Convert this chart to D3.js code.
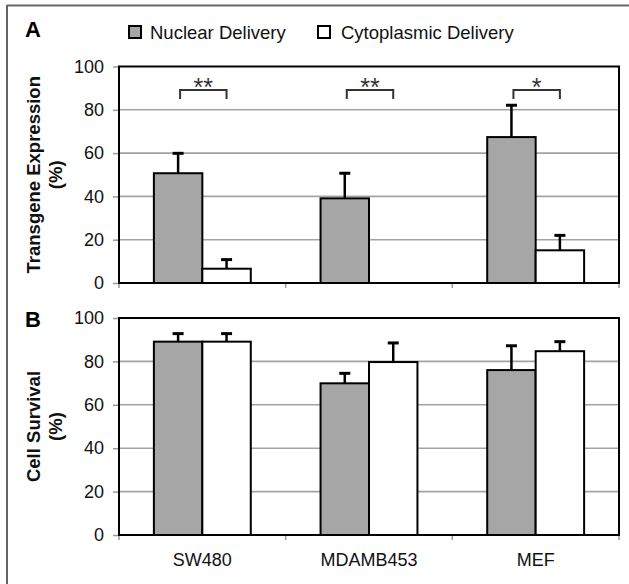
<!DOCTYPE html>
<html>
<head>
<meta charset="utf-8">
<script src="https://cdn.jsdelivr.net/npm/d3@7"></script>
<style>
html,body{margin:0;padding:0;background:#fff;}
svg{display:block;}
text{font-family:"Liberation Sans",Arial,sans-serif;}
</style>
</head>
<body>
<svg id="chart" width="629" height="584"></svg>
<script>
const categories = ["SW480", "MDAMB453", "MEF"];
const series = ["Nuclear Delivery", "Cytoplasmic Delivery"];
const yTicks = [0, 20, 40, 60, 80, 100];

const expressionNuclear = [50.7, 39.1, 67.4];
const expressionNuclearErr = [9.2, 11.6, 14.7];
const expressionCyto = [6.6, 0, 15.1];
const expressionCytoErr = [4.2, 0, 6.9];

const survivalNuclear = [89.1, 69.9, 76.0];
const survivalNuclearErr = [3.7, 4.6, 11.2];
const survivalCyto = [89.1, 79.7, 84.7];
const survivalCytoErr = [3.7, 8.8, 4.4];

const significance = ["**", "**", "*"];

const svg = d3.select("#chart");
const fillColors = ["#a6a6a6", "#ffffff"];
const left = 119, right = 619;

// outer frame (top and left only)
svg.append("line").attr("x1", 7).attr("x2", 629).attr("y1", 5.5).attr("y2", 5.5)
  .attr("stroke", "#666").attr("stroke-width", 2);
svg.append("line").attr("x1", 7).attr("x2", 7).attr("y1", 5).attr("y2", 584)
  .attr("stroke", "#666").attr("stroke-width", 2);

// legend
const legendItems = [
  {sx: 129, tx: 150},
  {sx: 318, tx: 341}
];
series.forEach((s, i) => {
  svg.append("rect").attr("x", legendItems[i].sx).attr("y", 26).attr("width", 12).attr("height", 12)
    .attr("fill", fillColors[i]).attr("stroke", "#000").attr("stroke-width", 2);
  svg.append("text").attr("x", legendItems[i].tx).attr("y", 38.5)
    .attr("font-size", 18.5).attr("fill", "#111").text(s);
});

const x0 = d3.scaleBand().domain(categories).range([left, right]);
const x1 = d3.scaleBand().domain(series).range([0, x0.bandwidth()]).paddingInner(0).paddingOuter(0.72);

function panel(cfg) {
  const y = d3.scaleLinear().domain([0, 100]).range([cfg.bottom, cfg.top]);
  const g = svg.append("g");

  // panel letter
  g.append("text").attr("x", 25).attr("y", cfg.letterY).attr("font-size", 22)
    .attr("font-weight", "bold").text(cfg.letter);

  // gridlines
  g.selectAll(".grid").data(yTicks.filter(t => t > 0 && t < 100)).enter().append("line")
    .attr("x1", left).attr("x2", right).attr("y1", d => y(d)).attr("y2", d => y(d))
    .attr("stroke", "#a3a3a3").attr("stroke-width", 1.6);

  // y axis
  const ya = g.append("g").attr("transform", `translate(${left},0)`)
    .call(d3.axisLeft(y).tickValues(yTicks).tickSize(6).tickPadding(9).tickFormat(d3.format("d")));
  ya.select(".domain").remove();
  ya.selectAll(".tick line").attr("stroke", "#999").attr("stroke-width", 1.5);
  ya.selectAll(".tick text").attr("font-size", 18).attr("fill", "#111")
    .attr("font-family", '"Liberation Sans",Arial,sans-serif');

  // x ticks at boundaries
  const bounds = categories.map(c => x0(c)).concat([right]);
  g.selectAll(".xt").data(bounds).enter().append("line")
    .attr("x1", d => d).attr("x2", d => d).attr("y1", cfg.bottom).attr("y2", cfg.bottom + 5)
    .attr("stroke", "#999").attr("stroke-width", 1.5);

  // bars
  const data = [];
  categories.forEach((c, i) => {
    data.push({c, s: series[0], v: cfg.nuc[i], e: cfg.nucErr[i], k: 0});
    data.push({c, s: series[1], v: cfg.cyt[i], e: cfg.cytErr[i], k: 1});
  });
  g.selectAll(".bar").data(data).enter().append("rect")
    .attr("x", d => x0(d.c) + x1(d.s))
    .attr("width", x1.bandwidth())
    .attr("y", d => y(d.v))
    .attr("height", d => y(0) - y(d.v))
    .attr("fill", d => fillColors[d.k])
    .attr("stroke", "#000").attr("stroke-width", 2);

  // error bars
  const eb = data.filter(d => d.e > 0);
  g.selectAll(".ebv").data(eb).enter().append("line")
    .attr("x1", d => x0(d.c) + x1(d.s) + x1.bandwidth() / 2)
    .attr("x2", d => x0(d.c) + x1(d.s) + x1.bandwidth() / 2)
    .attr("y1", d => y(d.v)).attr("y2", d => y(d.v + d.e))
    .attr("stroke", "#000").attr("stroke-width", 2.5);
  g.selectAll(".ebc").data(eb).enter().append("line")
    .attr("x1", d => x0(d.c) + x1(d.s) + x1.bandwidth() / 2 - 5.5)
    .attr("x2", d => x0(d.c) + x1(d.s) + x1.bandwidth() / 2 + 5.5)
    .attr("y1", d => y(d.v + d.e)).attr("y2", d => y(d.v + d.e))
    .attr("stroke", "#000").attr("stroke-width", 3);

  // plot frame
  g.append("rect").attr("x", left).attr("y", cfg.top).attr("width", right - left)
    .attr("height", cfg.bottom - cfg.top).attr("fill", "none")
    .attr("stroke", "#000").attr("stroke-width", 2);

  // y title
  const cy = (cfg.top + cfg.bottom) / 2;
  cfg.title.forEach((t, i) => {
    g.append("text").attr("transform", `translate(${40 + i * 22},${cy}) rotate(-90)`)
      .attr("text-anchor", "middle").attr("font-size", 18.5).attr("font-weight", "bold")
      .attr("fill", "#111").text(t);
  });

  // significance brackets
  if (cfg.sig) {
    categories.forEach((c, i) => {
      const xa = x0(c) + x1(series[0]) + x1.bandwidth() / 2 + 2;
      const xb = x0(c) + x1(series[1]) + x1.bandwidth() / 2;
      const yt = 90, yl = 99;
      g.append("path").attr("d", `M${xa},${yl}V${yt}H${xb}V${yl}`)
        .attr("fill", "none").attr("stroke", "#333").attr("stroke-width", 2);
      g.append("text").attr("x", (xa + xb) / 2).attr("y", 96).attr("text-anchor", "middle")
        .attr("font-size", 25).attr("fill", "#333").text(cfg.sig[i]);
    });
  }

  // x labels
  if (cfg.xlabels) {
    g.selectAll(".xl").data(categories).enter().append("text")
      .attr("x", d => x0(d) + x0.bandwidth() / 2).attr("y", 566)
      .attr("text-anchor", "middle").attr("font-size", 18).attr("fill", "#111").text(d => d);
  }
}

panel({letter: "A", letterY: 37, top: 66.5, bottom: 283,
  nuc: expressionNuclear, nucErr: expressionNuclearErr, cyt: expressionCyto, cytErr: expressionCytoErr,
  title: ["Transgene Expression", "(%)"], sig: significance});
panel({letter: "B", letterY: 327, top: 318, bottom: 535,
  nuc: survivalNuclear, nucErr: survivalNuclearErr, cyt: survivalCyto, cytErr: survivalCytoErr,
  title: ["Cell Survival", "(%)"], xlabels: true});
</script>
</body>
</html>
